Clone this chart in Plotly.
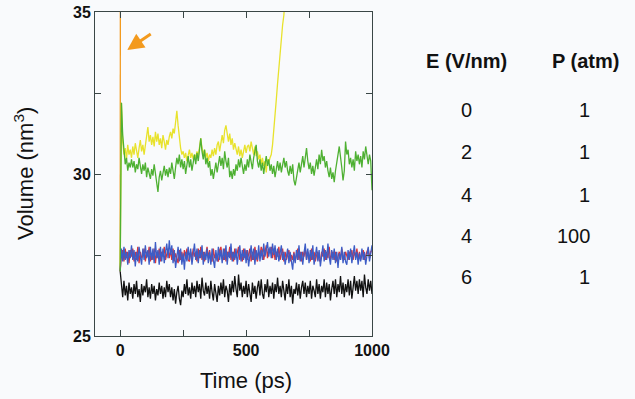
import plotly.graph_objects as go

# ---------------- data ----------------
time_ps = [i * 5 for i in range(201)]          # 0 .. 1000 ps sampling grid
time_yellow = [i * 5 for i in range(141)]      # 0 .. 700 ps
time_orange = [0, 1.5]

vol_black = [
    27.0, 26.6, 26.2, 26.7, 26.25, 26.55, 26.1, 26.65, 26.3, 26.5,
    26.15, 26.6, 26.3, 26.7, 26.2, 26.45, 26.05, 26.6, 26.25, 26.55,
    26.35, 26.75, 26.2, 26.5, 26.15, 26.6, 26.3, 26.55, 26.1, 26.45,
    26.25, 26.65, 26.3, 26.55, 26.15, 26.5, 26.2, 26.7, 26.35, 26.6,
    26.2, 26.5, 26.1, 26.45, 26.0, 26.35, 26.55, 26.15, 25.95, 26.4,
    26.2, 26.6, 26.3, 26.75, 26.25, 26.5, 26.15, 26.65, 26.3, 26.55,
    26.2, 26.7, 26.35, 26.6, 26.15, 26.8, 26.4, 26.25, 26.65, 26.3,
    26.55, 26.15, 26.7, 26.35, 26.1, 26.6, 26.3, 26.05, 26.55, 26.25,
    26.65, 26.3, 26.75, 26.2, 26.55, 26.4, 26.05, 26.6, 26.25, 26.7,
    26.35, 26.85, 26.45, 26.2, 26.9, 26.4, 26.65, 26.2, 26.55, 26.3,
    26.7, 26.2, 26.6, 26.35, 26.05, 26.65, 26.3, 26.55, 26.15, 26.5,
    26.7, 26.25, 26.75, 26.3, 26.15, 26.6, 26.35, 26.75, 26.2, 26.55,
    26.3, 26.65, 26.15, 26.6, 26.35, 26.8, 26.3, 26.55, 26.2, 26.7,
    26.4, 26.1, 26.6, 26.3, 26.75, 26.2, 26.55, 26.0, 26.45, 26.3,
    26.65, 26.25, 26.6, 26.15, 26.5, 26.7, 26.3, 26.65, 26.2, 26.55,
    26.3, 26.7, 26.15, 26.55, 26.4, 26.2, 26.75, 26.3, 26.6, 26.15,
    26.55, 26.35, 26.75, 26.2, 26.65, 26.3, 26.6, 26.1, 26.45, 26.7,
    26.3, 26.75, 26.2, 26.6, 26.35, 26.85, 26.3, 26.65, 26.2, 26.6,
    26.35, 26.75, 26.25, 26.7, 26.15, 26.55, 26.85, 26.4, 26.7, 26.3,
    26.75, 26.4, 26.7, 26.2, 26.9, 26.5, 26.3, 26.75, 26.4, 26.7,
    26.3,
]

vol_red = [
    27.0, 27.5, 27.65, 27.3, 27.7, 27.4, 27.6, 27.25, 27.65, 27.45,
    27.7, 27.3, 27.6, 27.35, 27.75, 27.25, 27.6, 27.4, 27.5, 27.7,
    27.3, 27.6, 27.45, 27.75, 27.3, 27.55, 27.35, 27.7, 27.25, 27.6,
    27.4, 27.7, 27.3, 27.6, 27.45, 27.75, 27.35, 27.5, 27.7, 27.4,
    27.65, 27.35, 27.7, 27.3, 27.55, 27.4, 27.25, 27.65, 27.35, 27.6,
    27.3, 27.65, 27.4, 27.7, 27.35, 27.3, 27.6, 27.4, 27.7, 27.45,
    27.6, 27.3, 27.7, 27.4, 27.75, 27.35, 27.6, 27.3, 27.55, 27.75,
    27.4, 27.65, 27.35, 27.3, 27.7, 27.4, 27.55, 27.35, 27.3, 27.65,
    27.75, 27.4, 27.35, 27.7, 27.3, 27.6, 27.45, 27.75, 27.35, 27.6,
    27.3, 27.7, 27.4, 27.55, 27.75, 27.35, 27.5, 27.3, 27.7, 27.4,
    27.65, 27.35, 27.5, 27.7, 27.3, 27.6, 27.35, 27.75, 27.45, 27.3,
    27.6, 27.45, 27.75, 27.65, 27.35, 27.6, 27.8, 27.4, 27.7, 27.55,
    27.75, 27.4, 27.7, 27.35, 27.6, 27.45, 27.75, 27.35, 27.6, 27.7,
    27.3, 27.6, 27.35, 27.5, 27.65, 27.3, 27.5, 27.35, 27.6, 27.3,
    27.5, 27.7, 27.35, 27.6, 27.3, 27.6, 27.45, 27.7, 27.35, 27.6,
    27.5, 27.3, 27.7, 27.35, 27.6, 27.3, 27.5, 27.6, 27.35, 27.3,
    27.6, 27.45, 27.7, 27.35, 27.6, 27.4, 27.75, 27.35, 27.5, 27.6,
    27.35, 27.6, 27.3, 27.5, 27.6, 27.35, 27.7, 27.45, 27.35, 27.6,
    27.45, 27.35, 27.6, 27.45, 27.65, 27.35, 27.6, 27.45, 27.7, 27.35,
    27.6, 27.35, 27.5, 27.65, 27.35, 27.5, 27.6, 27.7, 27.4, 27.6,
    27.65,
]

vol_blue = [
    27.0, 27.7, 27.3, 27.75, 27.35, 27.6, 27.2, 27.65, 27.4, 27.8,
    27.35, 27.65, 27.15, 27.6, 27.3, 27.75, 27.45, 27.2, 27.7, 27.35,
    27.8, 27.4, 27.65, 27.2, 27.75, 27.35, 27.7, 27.25, 27.9, 27.4,
    27.65, 27.2, 27.75, 27.3, 27.7, 27.25, 27.6, 27.85, 27.4, 27.95,
    27.5, 27.8, 27.25, 27.65, 27.1, 27.5, 27.75, 27.3, 27.7, 27.2,
    27.55, 27.05, 27.6, 27.3, 27.75, 27.35, 27.7, 27.2, 27.6, 27.85,
    27.35, 27.7, 27.25, 27.65, 27.4, 27.8, 27.2, 27.6, 27.35, 27.7,
    27.25, 27.6, 27.2, 27.7, 27.35, 27.1, 27.65, 27.3, 27.75, 27.35,
    27.65, 27.25, 27.7, 27.35, 27.8, 27.2, 27.6, 27.4, 27.85, 27.3,
    27.6, 27.35, 27.7, 27.2, 27.55, 27.8, 27.3, 27.65, 27.35, 27.7,
    27.25, 27.65, 27.15, 27.55, 27.8, 27.35, 27.7, 27.2, 27.65, 27.35,
    27.8, 27.3, 27.65, 27.35, 27.85, 27.45, 27.7, 27.9, 27.45, 27.75,
    27.4, 27.85, 27.5, 27.8, 27.35, 27.7, 27.3, 27.6, 27.8, 27.35,
    27.6, 27.2, 27.55, 27.7, 27.25, 27.6, 27.3, 27.05, 27.55, 27.25,
    27.65, 27.35, 27.8, 27.3, 27.6, 27.2, 27.55, 27.85, 27.35, 27.7,
    27.25, 27.65, 27.35, 27.8, 27.2, 27.55, 27.75, 27.3, 27.65, 27.15,
    27.55, 27.8, 27.3, 27.65, 27.35, 27.85, 27.45, 27.2, 27.65, 27.35,
    27.7, 27.25, 27.6, 27.1, 27.55, 27.35, 27.75, 27.25, 27.6, 27.3,
    27.2, 27.65, 27.35, 27.7, 27.25, 27.55, 27.8, 27.35, 27.6, 27.2,
    27.55, 27.3, 27.7, 27.35, 27.6, 27.2, 27.55, 27.75, 27.3, 27.6,
    27.8,
]

vol_green = [
    27.0, 32.2, 31.2, 30.7, 30.3, 30.5, 30.1, 30.35, 30.2, 30.45,
    30.2, 30.4, 30.05, 30.3, 30.15, 30.5, 30.25, 30.0, 30.3, 30.1,
    30.35, 29.9, 30.2, 30.05, 29.85, 30.15, 29.95, 30.3, 30.0, 29.7,
    29.45, 29.9, 30.1, 29.8, 30.05, 30.25, 29.95, 30.15, 29.9, 30.2,
    30.0, 30.35, 30.1, 29.85, 30.2, 30.5, 30.3, 30.6, 30.2, 30.45,
    30.15, 30.4, 30.0, 30.3, 30.55, 30.2, 30.45, 30.1, 30.35, 30.6,
    30.3, 30.65, 30.4, 30.8, 31.1, 30.7, 30.45, 30.75, 30.3, 30.5,
    30.2, 30.4, 29.95, 30.15, 29.85, 30.1, 30.35, 30.05, 30.3, 30.55,
    30.25, 30.5, 30.15, 30.7, 30.4, 30.2, 30.5, 29.9, 30.1, 29.85,
    30.15, 29.95, 30.3, 30.1, 30.45, 30.2, 30.5, 30.25, 30.0, 30.3,
    30.1, 30.45, 30.2, 30.6, 30.35, 30.15, 30.5, 30.75, 30.9, 30.4,
    30.2, 30.45, 30.1, 30.35, 30.0, 30.3, 30.55, 30.25, 30.45, 30.1,
    30.3, 30.0, 30.25, 29.9, 30.15, 30.4, 30.1, 30.35, 30.05, 30.3,
    30.5, 30.2, 30.4, 30.1, 29.95, 30.25, 30.0, 30.3, 29.8, 29.65,
    29.9, 30.15, 30.35, 30.05, 30.3, 30.55, 30.2, 30.45, 30.8, 30.4,
    30.15, 30.35, 30.0, 30.25, 29.95, 30.2, 30.45, 30.15, 30.6, 30.3,
    30.75, 30.4, 30.55, 30.2, 30.4, 30.1, 29.9, 30.2, 29.85, 30.05,
    29.75, 30.1, 30.3, 30.6, 30.85, 30.4, 30.2, 29.8, 30.1, 31.0,
    30.6, 30.75, 30.3, 30.5, 30.2, 30.45, 30.1, 30.7, 30.4, 30.6,
    30.3, 30.55, 30.2, 30.7, 30.45, 30.85, 30.5, 30.3, 30.6, 30.4,
    29.5,
]

vol_yellow = [
    27.0, 32.2, 31.0, 30.6, 30.8, 30.45, 30.9, 30.6, 30.75, 30.5,
    30.85, 30.6, 30.95, 30.7, 30.5, 30.8, 31.05, 30.7, 30.9, 30.6,
    30.85, 31.1, 31.45, 31.0, 31.2, 30.9, 31.15, 30.85, 31.3, 31.0,
    31.25, 30.9, 31.1, 30.8, 31.2, 31.0, 30.75, 31.05, 30.9, 31.15,
    31.3, 31.1, 31.4, 31.25, 31.6, 31.95, 31.5, 31.1, 30.8, 30.6,
    30.7, 30.5, 30.65, 30.4, 30.6, 30.75, 30.5, 30.65, 30.45, 30.6,
    30.5, 30.7, 30.55, 30.9, 31.1, 30.8, 30.6, 30.75, 30.5, 30.65,
    30.4, 30.6, 30.5, 30.75, 30.55, 30.8, 30.6, 30.9, 31.0, 30.7,
    30.9, 31.2, 30.95, 31.35, 31.5, 31.2, 31.0, 31.25, 30.9, 31.1,
    30.75, 30.95, 30.7, 30.6, 30.85, 30.55, 30.75, 30.5, 30.7, 30.9,
    30.65, 30.85, 30.9, 30.7, 31.0, 30.8, 30.6, 30.85, 30.55, 30.7,
    30.45, 30.6, 30.3, 30.5, 30.25, 30.4, 30.05, 30.45, 30.35, 30.5,
    30.6, 30.9, 31.3, 31.8, 32.3, 32.8, 33.3, 33.8, 34.2, 34.6,
    34.9, 35.3, 35.8, 36.4, 37.0, 37.6, 38.2, 38.8, 39.4, 40.0,
    40.6,
]

vol_orange = [27.0, 45.0]

table_E = ["0", "2", "4", "4", "6"]
table_P = ["1", "1", "1", "100", "1"]

# ---------------- figure ----------------
W, H = 635, 399
L, R, T, B = 95, 263, 12, 63
pw, ph = W - L - R, H - T - B

def px_x(px):
    return (px - L) / pw

def px_y(py):
    return (H - B - py) / ph

FONT = "Liberation Sans, Arial, Helvetica, sans-serif"
AX = "#3a4646"
BG = "#f9fafc"

fig = go.Figure()
series = [
    (time_orange, vol_orange, "#f29a1f"),
    (time_yellow, vol_yellow, "#e8e22c"),
    (time_ps, vol_black, "#111111"),
    (time_ps, vol_red, "#d9343a"),
    (time_ps, vol_blue, "#3d5cc6"),
    (time_ps, vol_green, "#4eb032"),
]
for xs, ys, col in series:
    fig.add_trace(go.Scatter(x=xs, y=ys, mode="lines",
                             line=dict(color=col, width=1.3),
                             showlegend=False, hoverinfo="skip"))

axis_common = dict(showline=True, linecolor=AX, linewidth=1, mirror="ticks",
                   ticks="inside", ticklen=6, tickcolor=AX, tickwidth=1,
                   showgrid=False, zeroline=False, ticklabeloverflow="allow",
                   tickfont=dict(family=FONT, size=16, color="#111", weight="bold"))

fig.update_xaxes(range=[-100, 1000], tickmode="array",
                 tickvals=[0, 250, 500, 750, 1000],
                 ticktext=["0", "", "500", "", "1000"], **axis_common)
fig.update_yaxes(range=[25, 35], tickmode="array",
                 tickvals=[25, 27.5, 30, 32.5, 35],
                 ticktext=["25", "", "30", "", "35"], **axis_common)

annotations = [
    dict(text="Time (ps)", x=500, xref="x", y=px_y(380), yref="paper",
         showarrow=False, xanchor="center", yanchor="middle",
         font=dict(family=FONT, size=22, color="#111")),
    dict(text="Volume (nm<sup>3</sup>)", x=px_x(24), xref="paper", y=30, yref="y",
         showarrow=False, xanchor="center", yanchor="middle", textangle=-90,
         font=dict(family=FONT, size=22, color="#111")),
    dict(text="", x=28, y=33.83, xref="x", yref="y", showarrow=True,
         ax=25, ay=-17, arrowhead=2, arrowsize=1.1, arrowwidth=3,
         arrowcolor="#f39a1e"),
    dict(text="<b>E (V/nm)</b>", x=px_x(466), y=px_y(61), xref="paper", yref="paper",
         showarrow=False, xanchor="center", yanchor="middle",
         font=dict(family=FONT, size=20, color="#111")),
    dict(text="<b>P (atm)</b>", x=px_x(585), y=px_y(61), xref="paper", yref="paper",
         showarrow=False, xanchor="center", yanchor="middle",
         font=dict(family=FONT, size=20, color="#111")),
]
row_px = [110, 152, 195, 236, 277]
for e, p, ry in zip(table_E, table_P, row_px):
    annotations.append(dict(text=e, x=px_x(466), y=px_y(ry), xref="paper", yref="paper",
                            showarrow=False, xanchor="center", yanchor="middle",
                            font=dict(family=FONT, size=20, color="#111")))
    annotations.append(dict(text=p, x=px_x(592), y=px_y(ry), xref="paper", yref="paper",
                            showarrow=False, xanchor="right", yanchor="middle",
                            font=dict(family=FONT, size=20, color="#111")))

fig.update_layout(width=W, height=H, margin=dict(l=L, r=R, t=T, b=B, autoexpand=False),
                  paper_bgcolor=BG, plot_bgcolor=BG, annotations=annotations,
                  showlegend=False)

fig.write_html("out.html", config={"displayModeBar": False},
               post_script="document.body.style.margin='0px';")
